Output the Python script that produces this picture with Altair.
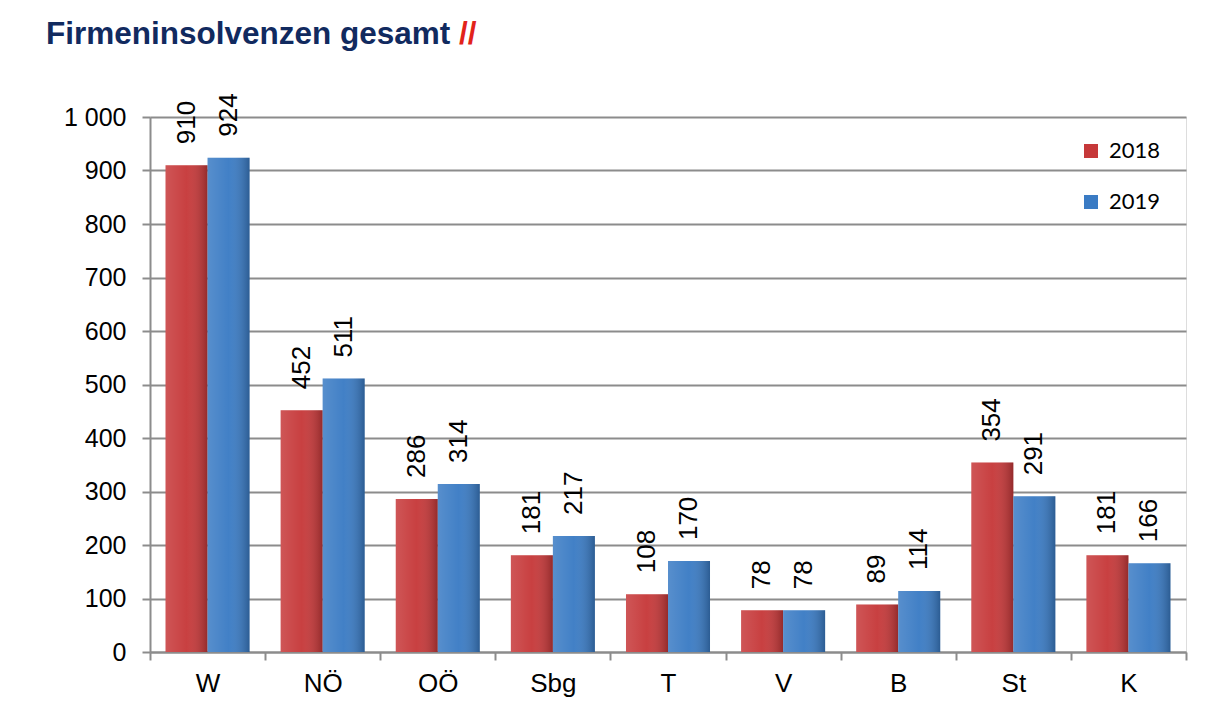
import altair as alt
import pandas as pd

regions = ["W", "NÖ", "OÖ", "Sbg", "T", "V", "B", "St", "K"]
values_2018 = [910, 452, 286, 181, 108, 78, 89, 354, 181]
values_2019 = [924, 511, 314, 217, 170, 78, 114, 291, 166]
years = ["2018", "2019"]
colors = ["#C63839", "#3A7BC4"]
y_ticks = [0, 100, 200, 300, 400, 500, 600, 700, 800, 900, 1000]

rows = []
for r, a, b in zip(regions, values_2018, values_2019):
    rows.append({"region": r, "year": years[0], "value": a})
    rows.append({"region": r, "year": years[1], "value": b})
df = pd.DataFrame(rows)

FONT = "Liberation Sans"

x_enc = alt.X(
    "region:N",
    sort=regions,
    scale=alt.Scale(paddingInner=0, paddingOuter=0),
    axis=alt.Axis(
        title=None,
        labelFont=FONT,
        labelFontSize=26,
        labelColor="#000000",
        labelAngle=0,
        labelPadding=10,
        domainColor="#8C8C8C",
        domainWidth=2,
        tickColor="#8C8C8C",
        tickWidth=2,
        tickSize=8,
        tickBand="extent",
        grid=False,
    ),
)
xoff = alt.XOffset("year:N", sort=years, scale=alt.Scale(paddingInner=0, paddingOuter=0.37))
y_enc = alt.Y(
    "value:Q",
    scale=alt.Scale(domain=[0, 1000], nice=False),
    axis=alt.Axis(
        title=None,
        values=y_ticks,
        labelExpr="replace(format(datum.value, ','), ',', ' ')",
        labelFont=FONT,
        labelFontSize=25,
        labelColor="#000000",
        labelPadding=16,
        domainColor="#8C8C8C",
        domainWidth=2,
        tickColor="#8C8C8C",
        tickWidth=2,
        tickSize=8,
        grid=True,
        gridColor="#8C8C8C",
        gridWidth=2,
    ),
)

base = alt.Chart(df)

bars = base.mark_bar().encode(
    x=x_enc,
    xOffset=xoff,
    y=y_enc,
    color=alt.Color(
        "year:N",
        scale=alt.Scale(domain=years, range=colors),
        legend=alt.Legend(
            title=None,
            orient="none",
            legendX=930,
            legendY=23,
            symbolType="square",
            symbolSize=196,
            symbolStrokeWidth=0,
            labelFont="Lato",
            labelFontSize=22,
            labelColor="#000000",
            labelOffset=7,
            rowPadding=29,
        ),
    ),
)

shade = base.mark_bar(
    fill=alt.Gradient(
        gradient="linear",
        x1=0, x2=1, y1=0, y2=0,
        stops=[
            alt.GradientStop(color="rgba(255,255,255,0.15)", offset=0),
            alt.GradientStop(color="rgba(255,255,255,0.04)", offset=0.5),
            alt.GradientStop(color="rgba(0,0,0,0.25)", offset=1),
        ],
    )
).encode(x=alt.X("region:N", sort=regions), xOffset=alt.XOffset("year:N", sort=years), y="value:Q")

labels = base.mark_text(
    angle=270, align="left", baseline="middle", dx=21, font=FONT, fontSize=26, color="#000000"
).encode(
    x=alt.X("region:N", sort=regions),
    xOffset=alt.XOffset("year:N", sort=years),
    y="value:Q",
    text="value:Q",
)

title_main = alt.Chart(pd.DataFrame({"t": ["Firmeninsolvenzen gesamt"]})).mark_text(
    align="left", baseline="alphabetic", font=FONT, fontSize=31.5, fontWeight="bold", color="#112A5F"
).encode(x=alt.value(-104), y=alt.value(-73), text="t:N")

title_slash = alt.Chart(pd.DataFrame({"t": ["//"]})).mark_text(
    align="left", baseline="alphabetic", font=FONT, fontSize=31.5, fontWeight="bold", color="#E2231A"
).encode(x=alt.value(309), y=alt.value(-73), text="t:N")

chart = (
    alt.layer(bars, shade, labels, title_main, title_slash)
    .properties(
        width=1036,
        height=535,
        padding={"left": 142, "top": 109, "right": 36, "bottom": 54},
        autosize=alt.AutoSizeParams(type="none"),
    )
    .configure_view(stroke=None)
    .configure(background="#FFFFFF")
)

chart.save("out.html", embed_options={"renderer": "svg", "actions": False})
